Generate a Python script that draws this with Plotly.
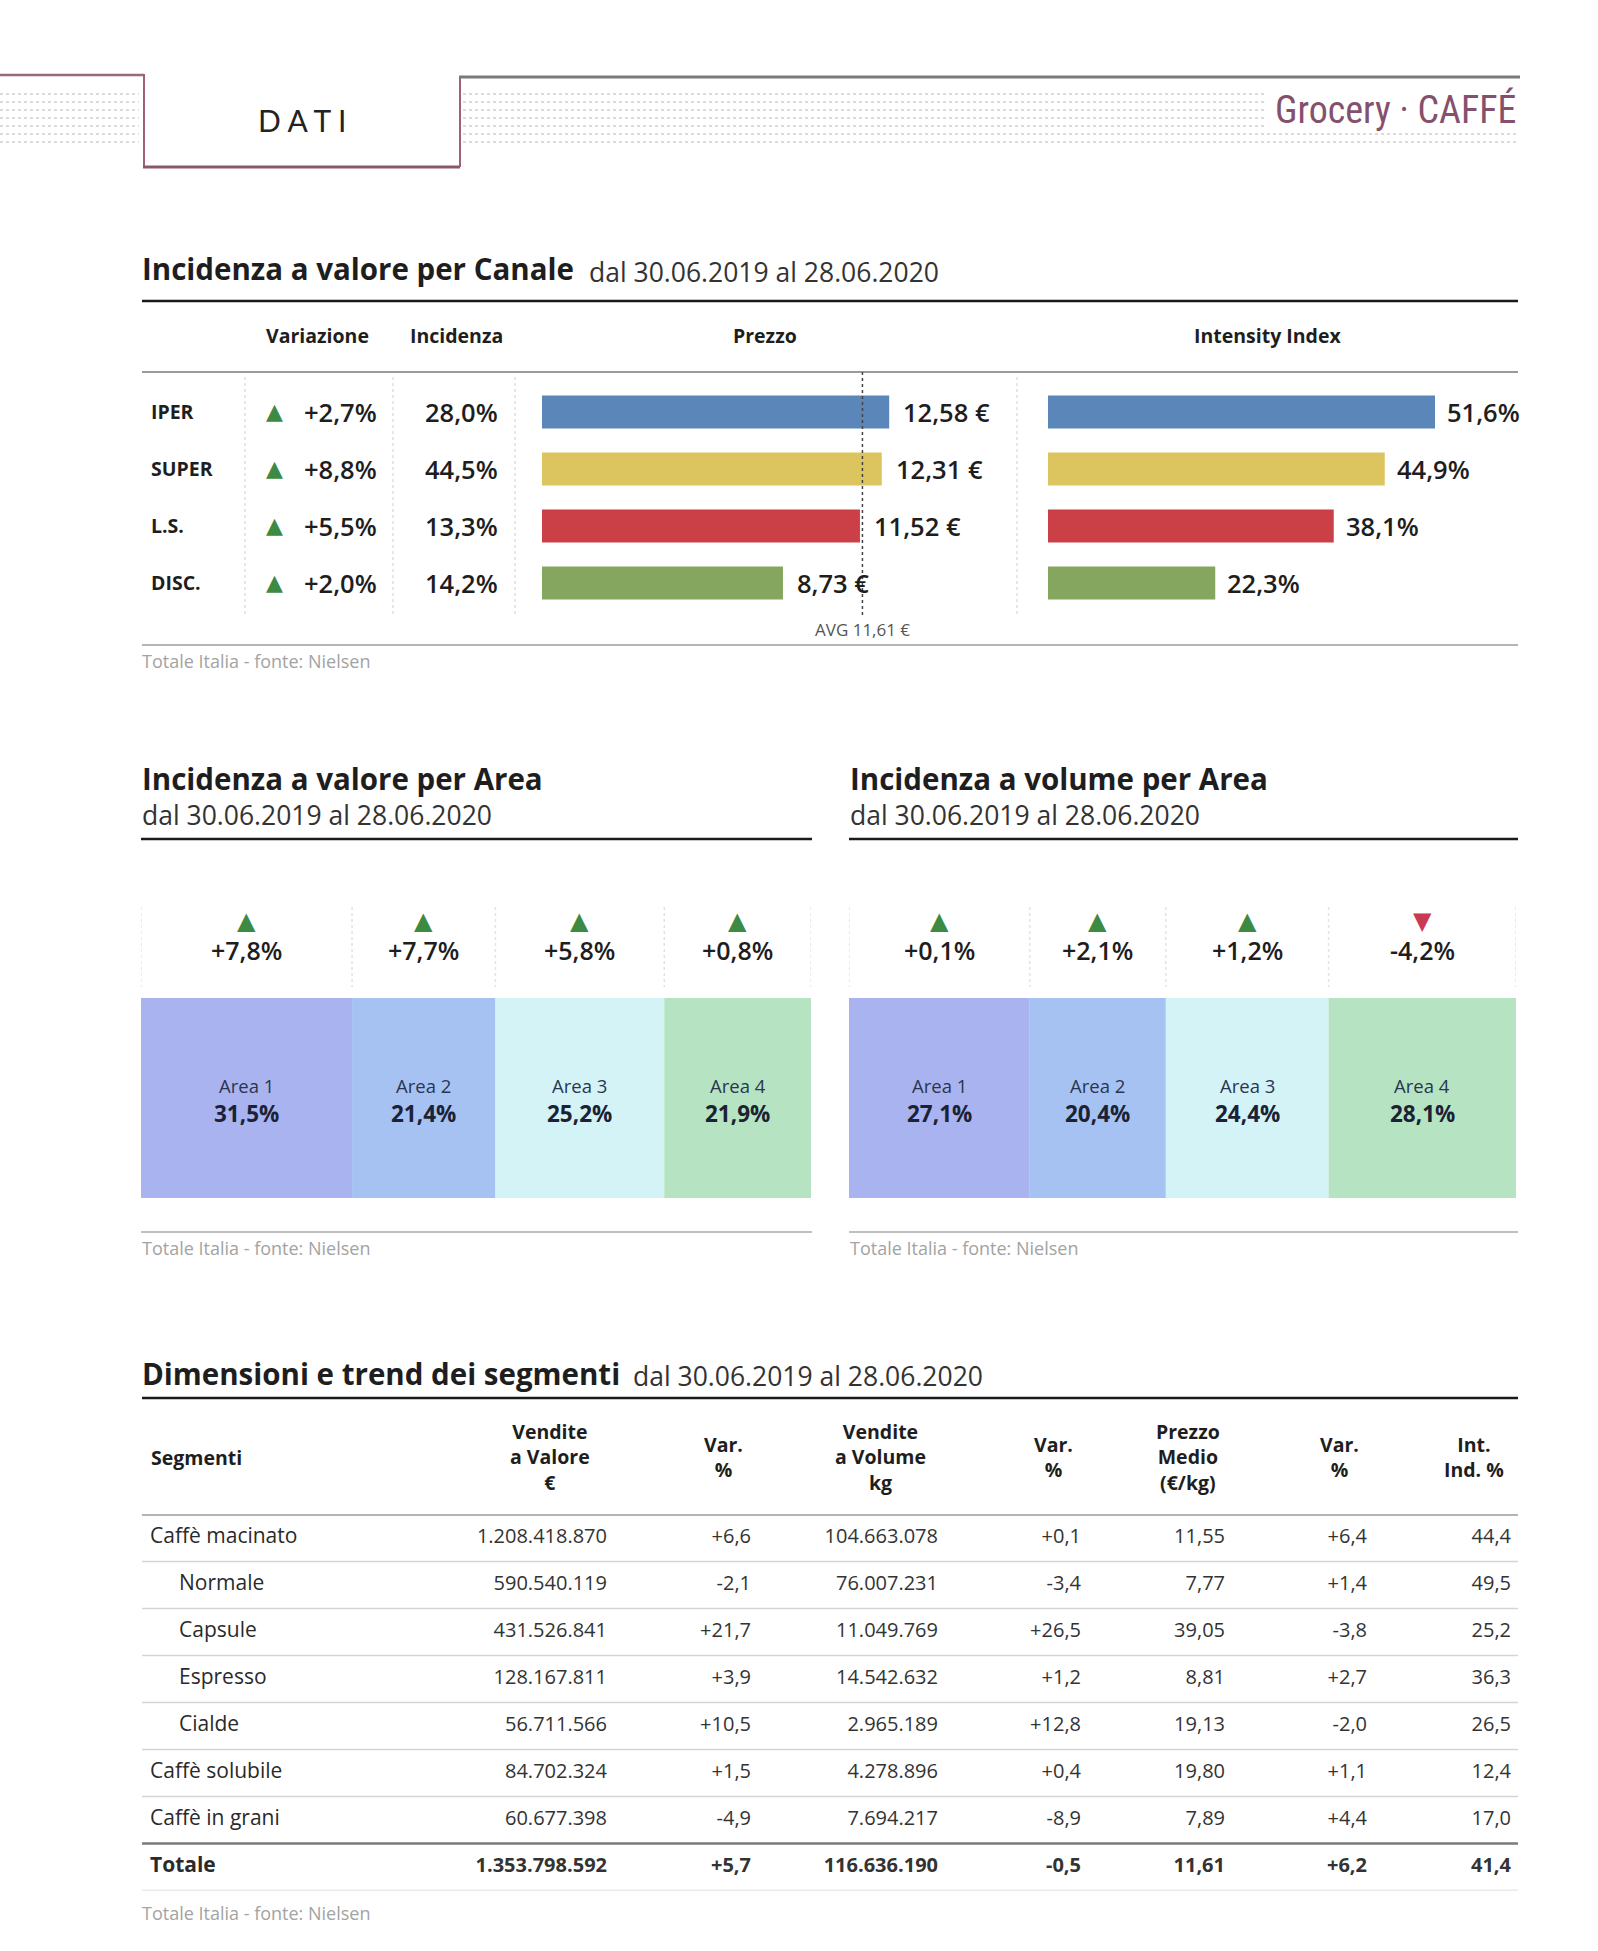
import plotly.graph_objects as go

# ---------------- data ----------------
channels = ["IPER", "SUPER", "L.S.", "DISC."]
channel_change = [2.7, 8.8, 5.5, 2.0]
channel_share = [28.0, 44.5, 13.3, 14.2]
channel_price = [12.58, 12.31, 11.52, 8.73]
channel_intensity = [51.6, 44.9, 38.1, 22.3]
avg_price = 11.61

areas = ["Area 1", "Area 2", "Area 3", "Area 4"]
area_value_share = [31.5, 21.4, 25.2, 21.9]
area_value_change = [7.8, 7.7, 5.8, 0.8]
area_volume_share = [27.1, 20.4, 24.4, 28.1]
area_volume_change = [0.1, 2.1, 1.2, -4.2]

segments = ["Caffè macinato", "Normale", "Capsule", "Espresso", "Cialde",
            "Caffè solubile", "Caffè in grani", "Totale"]
segment_is_sub = [False, True, True, True, True, False, False, False]
seg_sales_value = [1208418870, 590540119, 431526841, 128167811, 56711566,
                   84702324, 60677398, 1353798592]
seg_value_change = [6.6, -2.1, 21.7, 3.9, 10.5, 1.5, -4.9, 5.7]
seg_sales_volume = [104663078, 76007231, 11049769, 14542632, 2965189,
                    4278896, 7694217, 116636190]
seg_volume_change = [0.1, -3.4, 26.5, 1.2, 12.8, 0.4, -8.9, -0.5]
seg_avg_price = [11.55, 7.77, 39.05, 8.81, 19.13, 19.80, 7.89, 11.61]
seg_price_change = [6.4, 1.4, -3.8, 2.7, -2.0, 1.1, 4.4, 6.2]
seg_intensity = [44.4, 49.5, 25.2, 36.3, 26.5, 12.4, 17.0, 41.4]

table_headers = ["Segmenti", "Vendite<br>a Valore<br>€", "Var.<br>%",
                 "Vendite<br>a Volume<br>kg", "Var.<br>%",
                 "Prezzo<br>Medio<br>(€/kg)", "Var.<br>%", "Int.<br>Ind. %"]

period = "dal 30.06.2019 al 28.06.2020"
source = "Totale Italia - fonte: Nielsen"

# ---------------- styles ----------------
W, H = 1598, 1951
FONT = "'Open Sans', Roboto, sans-serif"
TRI_FONT = "DejaVu Sans"
channel_colors = ["#5b86b9", "#dcc45f", "#cb3f47", "#85a65f"]
area_colors = ["#a9b3ef", "#a6c2f3", "#d3f3f7", "#b6e4c2"]
UP, DOWN = "#3d8a43", "#c93a52"
DARK = "#1e1e1e"
SRC = "#a3a3a3"


def fx(x):
    return x / W


def fy(y):
    return 1 - y / H


def it(v, dec=1, sign=False):
    s = format(v, ("+" if sign else "") + "," + f".{dec}f")
    return s.replace(",", "§").replace(".", ",").replace("§", ".")


annotations = []
shapes = []


def ann(text, x, y, size, color=DARK, weight="normal", xanchor="center",
        yanchor="middle", xref="paper", yref="paper", family=FONT,
        align="center", xshift=0):
    annotations.append(dict(
        text=text, showarrow=False, align=align, xshift=xshift,
        x=fx(x) if xref == "paper" else x,
        y=fy(y) if yref == "paper" else y,
        xref=xref, yref=yref, xanchor=xanchor, yanchor=yanchor,
        font=dict(size=size, color=color, family=family, weight=weight)))


def hline(x0, x1, y, color, width, dash="solid", yref="paper"):
    shapes.append(dict(type="line", xref="paper", yref=yref,
                       x0=fx(x0), x1=fx(x1),
                       y0=fy(y) if yref == "paper" else y,
                       y1=fy(y) if yref == "paper" else y,
                       line=dict(color=color, width=width, dash=dash)))


def vline(x, y0, y1, color, width, dash="solid", xref="paper"):
    shapes.append(dict(type="line", xref=xref, yref="paper",
                       x0=fx(x) if xref == "paper" else x,
                       x1=fx(x) if xref == "paper" else x,
                       y0=fy(y0), y1=fy(y1),
                       line=dict(color=color, width=width, dash=dash)))


fig = go.Figure()

# ---------------- page header ----------------
for k, yy in enumerate([94, 102, 110, 118, 126, 134, 142]):
    hline(0, 139, yy, "#cfcfcf", 1.5, dash="dot")
    hline(463, 1266 if k < 5 else 1518, yy, "#cfcfcf", 1.5, dash="dot")
hline(0, 144, 75, "#9a6a78", 2.5)
vline(144, 74, 167, "#a0607a", 2)
hline(143, 460, 167, "#8a5a68", 3)
vline(460, 167, 76, "#a0607a", 2)
hline(459, 1520, 77, "#7a7a7a", 3)
ann("D A T I", 302, 120, 30, color="#222", family="Lato, Roboto, sans-serif")
ann("Grocery · CAFFÉ", 1518, 110, 38, color="#84506c", xanchor="right",
    family="'Liberation Sans Narrow', 'Roboto Condensed', Roboto, sans-serif")

# ---------------- section 1: channels ----------------
ann("Incidenza a valore per Canale", 140, 269, 29.5, weight="bold",
    xanchor="left")
ann(period, 587, 272, 26.5, color="#333", xanchor="left")
hline(142, 1518, 301, "#1a1a1a", 2.5)
for label, cx in zip(["Variazione", "Incidenza", "Prezzo", "Intensity Index"],
                     [317, 457, 765, 1267]):
    ann(label, cx, 336, 19.5, weight="bold")
hline(142, 1518, 372, "#9a9a9a", 2)
for sx in [245, 393, 515, 1017]:
    vline(sx, 377, 617, "#e0e0e0", 1.5, dash="dot")
hline(142, 1518, 645, "#b5b5b5", 2)
ann(source, 140, 661, 18, color=SRC, xanchor="left")

idx = list(range(len(channels)))
fig.add_trace(go.Bar(x=channel_price, y=idx, orientation="h", width=0.58,
                     marker=dict(color=channel_colors, line=dict(width=0)),
                     xaxis="x", yaxis="y", hoverinfo="skip"))
fig.add_trace(go.Bar(x=channel_intensity, y=idx, orientation="h", width=0.58,
                     marker=dict(color=channel_colors, line=dict(width=0)),
                     xaxis="x2", yaxis="y", hoverinfo="skip"))

for i, name in enumerate(channels):
    ann(name, 149, i, 19.5, weight="bold", xanchor="left", yref="y")
    up = channel_change[i] >= 0
    ann("▲" if up else "▼", 274, i, 22, color=UP if up else DOWN,
        family=TRI_FONT, yref="y")
    ann(it(channel_change[i], 1, True) + "%", 379, i, 25.5, weight=600,
        xanchor="right", yref="y")
    ann(it(channel_share[i]) + "%", 500, i, 25.5, weight=600,
        xanchor="right", yref="y")
    ann(it(channel_price[i], 2) + " €", channel_price[i], i, 25.5, weight=600,
        xanchor="left", xref="x", yref="y", xshift=12)
    ann(it(channel_intensity[i]) + "%", channel_intensity[i], i, 25.5,
        weight=600, xanchor="left", xref="x2", yref="y", xshift=10)

# avg line
vline(avg_price, 372, 617, "#444444", 1.5, dash="dot", xref="x")
ann("AVG " + it(avg_price, 2) + " €", avg_price, 629, 17, color="#555",
    xref="x")


# ---------------- section 2: areas ----------------
def area_panel(xa, ya, shares, changes, title, left, right):
    ann(title, left - 1, 778, 29.5, weight="bold", xanchor="left")
    ann(period, left - 1, 815, 26.5, color="#333", xanchor="left")
    hline(left, right, 839, "#1a1a1a", 2.5)
    hline(left, right, 1232, "#c0c0c0", 2)
    ann(source, left - 1, 1248, 18, color=SRC, xanchor="left")
    base = 0.0
    vline(base, 907, 987, "#e2e2e2", 1.5, dash="dot", xref=xa)
    for i, v in enumerate(shares):
        fig.add_trace(go.Bar(x=[v], y=[0], base=[base], orientation="h",
                             width=1, marker=dict(color=area_colors[i],
                                                  line=dict(width=0)),
                             xaxis=xa, yaxis=ya, hoverinfo="skip"))
        c = base + v / 2
        up = changes[i] >= 0
        ann("▲" if up else "▼", c, 921, 24, color=UP if up else DOWN,
            family=TRI_FONT, xref=xa)
        ann(it(changes[i], 1, True) + "%", c, 950, 25, weight=600, xref=xa)
        ann(areas[i], c, 1085, 18.5, color="#2b3550", xref=xa)
        ann(it(v) + "%", c, 1113.5, 22.5, weight="bold", color="#1c2236",
            xref=xa)
        base += v
        vline(base, 907, 987, "#e2e2e2", 1.5, dash="dot", xref=xa)


area_panel("x3", "y3", area_value_share, area_value_change,
           "Incidenza a valore per Area", 141, 812)
area_panel("x4", "y3", area_volume_share, area_volume_change,
           "Incidenza a volume per Area", 849, 1518)

# ---------------- section 3: table ----------------
ann("Dimensioni e trend dei segmenti", 140, 1373, 29.5, weight="bold",
    xanchor="left")
ann(period, 631, 1376, 26.5, color="#333", xanchor="left")
hline(142, 1518, 1398, "#1a1a1a", 2.5)

col_right = [607, 751, 938, 1081, 1225, 1367, 1511]
col_center = [550, 723, 880, 1053, 1188, 1339, 1474]
ann(table_headers[0], 149, 1457, 19.5, weight="bold", xanchor="left")
for h, cx in zip(table_headers[1:], col_center):
    ann(h, cx, 1457, 19.5, weight="bold")

n = len(segments)
rows = list(range(n))
hline(142, 1518, -0.5, "#6a6a6a", 2, yref="y5")
for i in range(n):
    last = i == n - 2
    hline(142, 1518, i + 0.5, "#7a7a7a" if last else "#d5d5d5",
          2.5 if last else 1.5, yref="y5")


def cell_text(values):
    return [f"<b>{v}</b>" if segments[i] == "Totale" else v
            for i, v in enumerate(values)]


name_x = [179 if s else 150 for s in segment_is_sub]
fig.add_trace(go.Scatter(x=name_x, y=rows, mode="text", text=cell_text(segments),
                         textposition="middle right",
                         textfont=dict(size=21, color="#2a2a2a", family=FONT),
                         xaxis="x5", yaxis="y5", hoverinfo="skip",
                         cliponaxis=False))
columns = [
    [it(v, 0) for v in seg_sales_value],
    [it(v, 1, True) for v in seg_value_change],
    [it(v, 0) for v in seg_sales_volume],
    [it(v, 1, True) for v in seg_volume_change],
    [it(v, 2) for v in seg_avg_price],
    [it(v, 1, True) for v in seg_price_change],
    [it(v, 1) for v in seg_intensity],
]
for col, xr in zip(columns, col_right):
    fig.add_trace(go.Scatter(x=[xr] * n, y=rows, mode="text",
                             text=cell_text(col),
                             textposition="middle left",
                             textfont=dict(size=20, color="#333333", family=FONT),
                             xaxis="x5", yaxis="y5", hoverinfo="skip",
                             cliponaxis=False))
ann(source, 140, 1913, 18, color=SRC, xanchor="left")

# ---------------- layout ----------------
hid = dict(visible=False, fixedrange=True)
fig.update_layout(
    width=W, height=H, margin=dict(l=0, r=0, t=0, b=0),
    paper_bgcolor="white", plot_bgcolor="rgba(0,0,0,0)",
    showlegend=False, barmode="overlay",
    font=dict(family=FONT),
    xaxis=dict(domain=[fx(542), fx(542 + 27.6 * 14)], range=[0, 14],
               anchor="y", **hid),
    yaxis=dict(domain=[fy(611.5), fy(383.5)], range=[3.5, -0.5],
               anchor="x", **hid),
    xaxis2=dict(domain=[fx(1048), fx(1048 + 7.5 * 62)], range=[0, 62],
                anchor="y", **hid),
    xaxis3=dict(domain=[fx(141), fx(811)], range=[0, 100], anchor="y3", **hid),
    yaxis3=dict(domain=[fy(1198), fy(998)], range=[-0.5, 0.5], anchor="x3",
                **hid),
    xaxis4=dict(domain=[fx(849), fx(1516)], range=[0, 100], anchor="y3", **hid),
    xaxis5=dict(domain=[0, 1], range=[0, W], anchor="y5", **hid),
    yaxis5=dict(domain=[fy(1890.5), fy(1514.5)], range=[n - 0.5, -0.5],
                anchor="x5", **hid),
    annotations=annotations, shapes=shapes,
)

fig.write_html("out.html",
               config={"displayModeBar": False, "staticPlot": True},
               post_script="document.body.style.margin='0';"
                           "document.body.style.overflow='hidden';")
